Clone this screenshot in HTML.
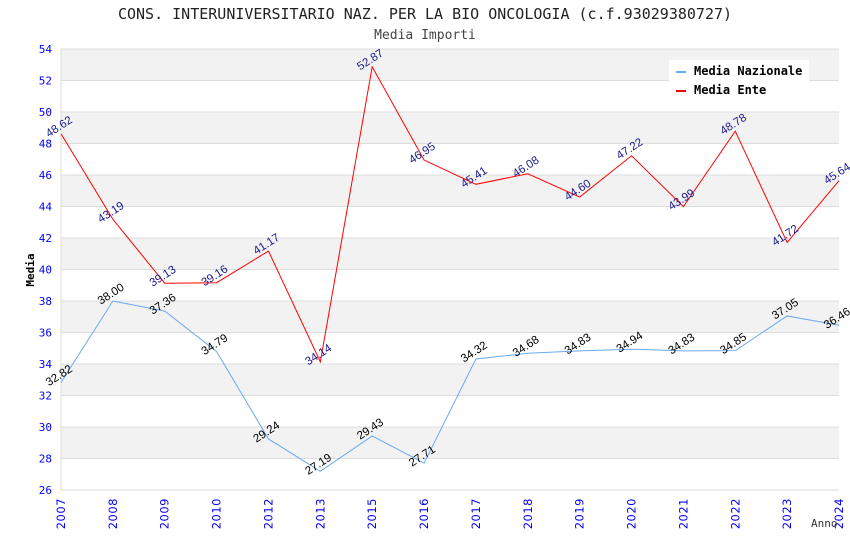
<!DOCTYPE html>
<html><head><meta charset="utf-8"><style>
body{margin:0;background:#fff}
svg{display:block;font-family:"DejaVu Sans Mono","Liberation Mono",monospace}
</style></head><body>
<svg id="c" width="850" height="550" xmlns="http://www.w3.org/2000/svg">
<text x="425" y="19" text-anchor="middle" font-size="15" fill="#222">CONS. INTERUNIVERSITARIO NAZ. PER LA BIO ONCOLOGIA (c.f.93029380727)</text>
<text x="425" y="39" text-anchor="middle" font-size="13" fill="#444">Media Importi</text>
<g id="bands"></g><g id="grid"></g><g id="yt"></g><g id="xt"></g><g id="lines"></g><g id="labels"></g>
<text x="34" y="270" transform="rotate(-90 34 270)" text-anchor="middle" font-size="11" font-weight="bold" fill="#000">Media</text>
<text x="811" y="527" font-size="11" fill="#333">Anno</text>
<g>
<rect x="669" y="60" width="140" height="42" fill="#fff"/>
<rect x="676" y="71" width="10" height="2" fill="#6aaaf0"/>
<text x="694" y="75" font-size="12" font-weight="bold" fill="#000">Media Nazionale</text>
<rect x="676" y="90" width="10" height="2" fill="#f00"/>
<text x="694" y="94" font-size="12" font-weight="bold" fill="#000">Media Ente</text>
</g>
</svg>
<script>
const categories=["2007","2008","2009","2010","2012","2013","2015","2016","2017","2018","2019","2020","2021","2022","2023","2024"];
const nazionale=[32.82,38.00,37.36,34.79,29.24,27.19,29.43,27.71,34.32,34.68,34.83,34.94,34.83,34.85,37.05,36.46];
const ente=[48.62,43.19,39.13,39.16,41.17,34.14,52.87,46.95,45.41,46.08,44.60,47.22,43.99,48.78,41.72,45.64];
const yTicks=[26,28,30,32,34,36,38,40,42,44,46,48,50,52,54];
const NS="http://www.w3.org/2000/svg";
const L=61,R=839,T=49,B=490,yMin=26,yMax=54;
const x=i=>L+(R-L)*i/(categories.length-1);
const y=v=>B-(v-yMin)/(yMax-yMin)*(B-T);
function mk(t,a,p){const e=document.createElementNS(NS,t);for(const k in a)e.setAttribute(k,a[k]);document.getElementById(p).appendChild(e);return e;}
for(let i=0;i<yTicks.length-1;i++){
 if(i%2===1){const r=mk('rect',{x:L,y:y(yTicks[i+1]),width:R-L,height:y(yTicks[i])-y(yTicks[i+1]),fill:'#f2f2f2'},'bands');
 
 }
}
yTicks.forEach(v=>{
 const g=mk('line',{x1:L,x2:R,y1:y(v),y2:y(v),stroke:'#ddd','stroke-width':1},'grid');
 
 
 const t=mk('text',{x:52,y:y(v)+4,'text-anchor':'end','font-size':11,fill:'#00f'},'yt');t.textContent=v;
 
 
});
mk('line',{x1:L,x2:L,y1:T,y2:B,stroke:'#ddd'},'grid');
categories.forEach((c,i)=>{
 const t=mk('text',{x:x(i)+4,y:498,'text-anchor':'end','font-family':'DejaVu Sans, sans-serif','font-size':11.5,'letter-spacing':0.5,fill:'#00f',transform:`rotate(-90 ${x(i)+4} 498)`},'xt');t.textContent=c;
 
 
});
function series(d,color,lc,name){
 const p=mk('polyline',{points:d.map((v,i)=>x(i)+','+y(v)).join(' '),fill:'none',stroke:color,'stroke-width':1},'lines');
 
 
 d.forEach((v,i)=>{
  const px=x(i),py=y(v)-4;
  const t=mk('text',{x:px,y:py,'text-anchor':'middle','font-family':'Liberation Sans, sans-serif','font-size':11.5,fill:lc,transform:`rotate(-33 ${px} ${py})`},'labels');
  t.textContent=v.toFixed(2);
  
  
 });
}
series(nazionale,'#6aaaf0','#000','media-nazionale');
series(ente,'#f00','#1a1a8c','media-ente');
</script>
</body></html>
